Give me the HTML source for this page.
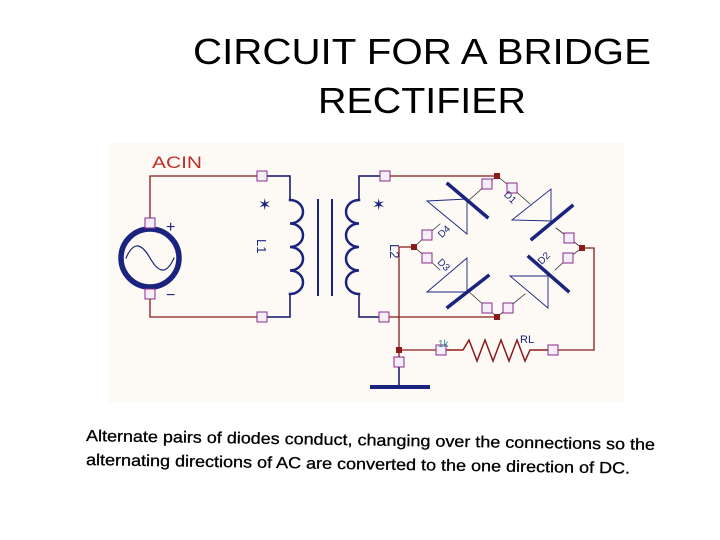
<!DOCTYPE html>
<html><head><meta charset="utf-8"><style>
html,body{margin:0;padding:0;background:#fff;width:720px;height:540px;overflow:hidden}
svg{display:block}
</style></head><body>
<svg width="720" height="540" viewBox="0 0 720 540" xmlns="http://www.w3.org/2000/svg">
<text x="422" y="64" font-family="Liberation Sans, sans-serif" font-size="36" text-anchor="middle" fill="#000" textLength="458" lengthAdjust="spacingAndGlyphs">CIRCUIT FOR A BRIDGE</text>
<text x="422" y="113" font-family="Liberation Sans, sans-serif" font-size="36" text-anchor="middle" fill="#000" textLength="208" lengthAdjust="spacingAndGlyphs">RECTIFIER</text>

<rect x="108" y="143" width="516" height="259" fill="#fdfaf6"/>
<text x="152" y="168" font-family="Liberation Sans, sans-serif" font-size="17" fill="#c0302a" textLength="50" lengthAdjust="spacingAndGlyphs">ACIN</text>

<g fill="none" stroke-linecap="square">
<path d="M150 223 V176 H290 V200 M150 294 V317 H290 V294" stroke="#8b1a1a" stroke-width="1.3"/>
<path d="M268 176 H290 V200 M268 317 H290 V294" stroke="#1a237e" stroke-width="1.5"/>
<path d="M290 200 a13 11.75 0 0 1 0 23.5 a13 11.75 0 0 1 0 23.5 a13 11.75 0 0 1 0 23.5 a13 11.75 0 0 1 0 23.5" stroke="#1a237e" stroke-width="2.5"/>
<path d="M359 200 a13 11.75 0 0 0 0 23.5 a13 11.75 0 0 0 0 23.5 a13 11.75 0 0 0 0 23.5 a13 11.75 0 0 0 0 23.5" stroke="#1a237e" stroke-width="2.5"/>
<path d="M318 200 V295 M332 200 V295" stroke="#1a237e" stroke-width="2"/>
<path d="M359 200 V176 H497 M359 294 V317 H497" stroke="#8b1a1a" stroke-width="1.3"/>
<path d="M359 200 V176 H380 M359 294 V317 H380" stroke="#1a237e" stroke-width="1.5"/>
<path d="M414 247 H399 V387 M399 350 H441 M553 350 H594 V248 H582" stroke="#8b1a1a" stroke-width="1.3"/>
<path d="M399 357 V387" stroke="#1a237e" stroke-width="1.5"/>
<path d="M372 387 H428" stroke="#1a237e" stroke-width="4"/>
<path d="M446 350 H463 L469 340 L477 361 L485 340 L493 361 L501 340 L509 361 L517 340 L525 361 L530 350 H548" stroke="#8b1a1a" stroke-width="1.5"/>
<circle cx="150" cy="258" r="29" stroke="#1a237e" stroke-width="5.5"/>
<path d="M126 258 C134 240 142 244 150 258 C158 272 166 276 174 258" stroke="#1a237e" stroke-width="1.2"/>
<path d="M497 176 L487 184 M497 176 L512 188 M414 247 L427 235 M414 247 L427 258 M582 248 L569 238 M582 248 L568 258 M497 317 L487 308 M497 317 L508 308" stroke="#333" stroke-width="0.8"/>
<path d="M487 184 L467 202 M512 188 L530 204 M427 235 L440 224 M427 258 L440 270 M569 238 L556 228 M568 258 L555 270 M487 308 L467 290 M508 308 L525 294" stroke="#333" stroke-width="0.8"/>
<g stroke="#1a237e" stroke-width="0.9">
<path d="M427 201 L467 199 L467 234 Z"/>
<path d="M512 220 L551 189 L551 221 Z"/>
<path d="M427 292 L467 258 L467 292 Z"/>
<path d="M510 276 L548 276 L548 308 Z"/>
</g>
<g stroke="#1a237e" stroke-width="3.5">
<path d="M448 184 L487 217"/>
<path d="M532 239 L572 206"/>
<path d="M448 307 L488 276"/>
<path d="M529 257 L568 291"/>
</g>
</g>
<g fill="#8b1a1a">
<rect x="494" y="173" width="6" height="6"/>
<rect x="411" y="244" width="6" height="6"/>
<rect x="579" y="245" width="6" height="6"/>
<rect x="494" y="314" width="6" height="6"/>
<rect x="396" y="347" width="6" height="6"/>
</g>
<g fill="#f4eef8" stroke="#8a2a8a" stroke-width="1">
<rect x="257" y="171" width="10" height="10"/><rect x="257" y="312" width="10" height="10"/>
<rect x="145" y="218" width="10" height="10"/><rect x="145" y="289" width="10" height="10"/>
<rect x="380" y="171" width="10" height="10"/><rect x="379" y="312" width="10" height="10"/>
<rect x="482" y="179" width="10" height="10"/><rect x="507" y="183" width="10" height="10"/>
<rect x="422" y="230" width="10" height="10"/><rect x="422" y="253" width="10" height="10"/>
<rect x="564" y="233" width="10" height="10"/><rect x="563" y="253" width="10" height="10"/>
<rect x="482" y="303" width="10" height="10"/><rect x="503" y="303" width="10" height="10"/>
<rect x="436" y="345" width="10" height="10"/><rect x="548" y="345" width="10" height="10"/>
<rect x="394" y="357" width="10" height="10"/>
</g>
<g font-family="Liberation Sans, sans-serif" fill="#1a237e">
<text x="166" y="232" font-size="16">+</text>
<text x="166" y="300" font-size="16">−</text>
<text x="258" y="210" font-size="16">✶</text>
<text x="372" y="210" font-size="16">✶</text>
<text x="246" y="240" font-size="13" transform="rotate(90 252 245)">L1</text>
<text x="380" y="250" font-size="13" transform="rotate(90 388 252)">L2</text>
<text x="438" y="235" font-size="10" transform="rotate(-45 444 232)">D4</text>
<text x="438" y="268" font-size="10" transform="rotate(45 444 264)">D3</text>
<text x="503" y="200" font-size="10" transform="rotate(45 509 198)">D1</text>
<text x="537" y="262" font-size="10" transform="rotate(-45 543 258)">D2</text>
<text x="520" y="343" font-size="11">RL</text>
</g>
<text x="438" y="347" font-family="Liberation Sans, sans-serif" font-size="10" fill="#2a8a8a">1k</text>

<g font-family="Liberation Sans, sans-serif" font-size="16" fill="#000" stroke="#000" stroke-width="0.3">
<text x="86" y="441" transform="rotate(0.9 86 441)" textLength="569" lengthAdjust="spacingAndGlyphs">Alternate pairs of diodes conduct, changing over the connections so the</text>
<text x="86" y="465" transform="rotate(0.9 86 465)" textLength="544" lengthAdjust="spacingAndGlyphs">alternating directions of AC are converted to the one direction of DC.</text>
</g>
</svg>
</body></html>
